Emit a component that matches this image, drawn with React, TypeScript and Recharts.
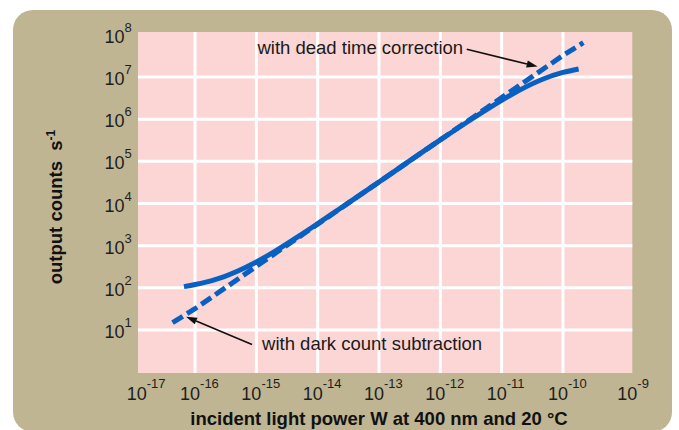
import React from 'react';
import { LineChart, Line, XAxis, YAxis, ReferenceArea, ReferenceLine, ReferenceDot } from 'recharts';

const FONT = '"Liberation Sans", Arial, Helvetica, sans-serif';

// tick labels (decades)
const xTicks = [1e-17, 1e-16, 1e-15, 1e-14, 1e-13, 1e-12, 1e-11, 1e-10, 1e-9];
const yTicks = [1e1, 1e2, 1e3, 1e4, 1e5, 1e6, 1e7, 1e8];
const xGridValues = [1e-16, 1e-15, 1e-14, 1e-13, 1e-12, 1e-11, 1e-10];
const yGridValues = [1e1, 1e2, 1e3, 1e4, 1e5, 1e6, 1e7];

// extent of the pink plotting field (slightly beyond the decade range)
const fieldX = [1.175e-17, 1.35e-9];
const fieldY = [0.957, 1.17e8];

// measured output counts (solid curve)
const measured = [
  { x: 6.6e-17, y: 107 },
  { x: 1e-16, y: 120 },
  { x: 1.5e-16, y: 137 },
  { x: 2e-16, y: 153 },
  { x: 3e-16, y: 185 },
  { x: 5e-16, y: 250 },
  { x: 1e-15, y: 410 },
  { x: 2e-15, y: 735 },
  { x: 5e-15, y: 1710 },
  { x: 1e-14, y: 3330 },
  { x: 3e-14, y: 9800 },
  { x: 1e-13, y: 32400 },
  { x: 1e-12, y: 322000 },
  { x: 3e-12, y: 930000 },
  { x: 1e-11, y: 2.8e6 },
  { x: 2e-11, y: 4.95e6 },
  { x: 5e-11, y: 9.2e6 },
  { x: 1e-10, y: 1.28e7 },
  { x: 1.8e-10, y: 1.55e7 },
];

// corrected counts (dashed line: dark count subtraction / dead time correction)
const corrected = [
  { x: 4.3e-17, y: 15 },
  { x: 1e-16, y: 32 },
  { x: 1e-15, y: 324 },
  { x: 1e-14, y: 3240 },
  { x: 1e-13, y: 32400 },
  { x: 1e-12, y: 324000 },
  { x: 1e-11, y: 3.24e6 },
  { x: 1e-10, y: 3.24e7 },
  { x: 2.15e-10, y: 6.5e7 },
];

// annotations (data coordinates)
const deadTimeText = { x: 2.35e-12, y: 3.5e7, text: 'with dead time correction' };
const deadTimeArrow = [{ x: 2.7e-12, y: 4.54e7 }, { x: 3.86e-11, y: 1.76e7 }];
const darkText = { x: 1.24e-15, y: 3.36, text: 'with dark count subtraction' };
const darkArrow = [{ x: 8.5e-16, y: 4.54 }, { x: 7.13e-17, y: 20.7 }];

const BLUE = '#0861C2';
const PINK = '#FCD5D5';
const TAN = '#BFB593';

const exponent = (v: number) => Math.round(Math.log10(v));

const XTick = (props: any) => {
  const { x, y, payload } = props;
  const e = exponent(payload.value);
  const shift = e === -17 || e === -9 ? 8 : 0;
  return (
    <text x={x - 15 + shift} y={y + 27.8} fontSize={18} fontFamily={FONT} fill="#1e1e1e" textAnchor="start">
      <tspan>10</tspan>
      <tspan dy={-12} fontSize={13}>{e}</tspan>
    </text>
  );
};

const YTick = (props: any) => {
  const { x, y, payload } = props;
  const e = exponent(payload.value);
  return (
    <text x={x} y={y + 8} fontSize={18} fontFamily={FONT} fill="#1e1e1e" textAnchor="end">
      <tspan>10</tspan>
      <tspan dy={-11} fontSize={13}>{e}</tspan>
    </text>
  );
};

const ArrowShape = (props: any) => {
  const { x1, y1, x2, y2 } = props;
  const ang = Math.atan2(y2 - y1, x2 - x1);
  const L = 11;
  const W = 3.6;
  const bx = x2 - L * Math.cos(ang);
  const by = y2 - L * Math.sin(ang);
  const px = -Math.sin(ang) * W;
  const py = Math.cos(ang) * W;
  return (
    <g>
      <line x1={x1} y1={y1} x2={bx} y2={by} stroke="#111" strokeWidth={1.6} />
      <polygon points={`${x2},${y2} ${bx + px},${by + py} ${bx - px},${by - py}`} fill="#111" />
    </g>
  );
};

const textShape = (text: string, anchor: string) => (props: any) => (
  <text x={props.cx} y={props.cy} fontSize={18.5} fontFamily={FONT} fill="#1a1a1a" textAnchor={anchor}>
    {text}
  </text>
);

const XTitle = (props: any) => {
  const vb = props.viewBox || {};
  return (
    <text x={vb.x + vb.width / 2} y={vb.y + 52.8} fontSize={18.5} fontWeight="bold" fontFamily={FONT} fill="#111" textAnchor="middle">
      incident light power W at 400 nm and 20 °C
    </text>
  );
};

const YTitle = (props: any) => {
  const cx = 62;
  const cy = 207;
  return (
    <text x={cx} y={cy} transform={`rotate(-90, ${cx}, ${cy})`} fontSize={18.5} fontWeight="bold" fontFamily={FONT} fill="#111" textAnchor="middle">
      <tspan>output counts{'\u00a0\u00a0'}s</tspan>
      <tspan dy={-7} fontSize={12}>-1</tspan>
    </text>
  );
};

export default function App() {
  return (
    <div style={{ position: 'absolute', left: 0, top: 0, width: 679, height: 430, background: '#fff', overflow: 'hidden' }}>
      <div style={{ position: 'absolute', left: 13, top: 10, width: 659, height: 422, background: TAN, borderRadius: 20 }} />
      <div style={{ position: 'absolute', left: 0, top: 0 }}>
        <LineChart width={679} height={430} margin={{ top: 34.8, right: 54.7, bottom: 0, left: 0 }}>
          <XAxis
            dataKey="x"
            type="number"
            scale="log"
            domain={[1e-17, 1e-9]}
            ticks={xTicks}
            tick={<XTick />}
            tickSize={0}
            tickMargin={0}
            axisLine={false}
            tickLine={false}
            height={57.8}
            allowDataOverflow
            interval={0}
            label={{ content: <XTitle /> }}
          />
          <YAxis
            dataKey="y"
            type="number"
            scale="log"
            domain={[1, 1e8]}
            ticks={yTicks}
            tick={<YTick />}
            tickSize={0}
            tickMargin={2}
            axisLine={false}
            tickLine={false}
            width={133.7}
            allowDataOverflow
            interval={0}
            label={{ content: <YTitle /> }}
          />
          <ReferenceArea x1={fieldX[0]} x2={fieldX[1]} y1={fieldY[0]} y2={fieldY[1]} fill={PINK} fillOpacity={1} stroke="none" ifOverflow="visible" />
          {xGridValues.map((v) => (
            <ReferenceLine key={'vx' + v} segment={[{ x: v, y: fieldY[0] }, { x: v, y: fieldY[1] }]} stroke="#fff" strokeWidth={3} ifOverflow="visible" />
          ))}
          {yGridValues.map((v) => (
            <ReferenceLine key={'hy' + v} segment={[{ x: fieldX[0], y: v }, { x: fieldX[1], y: v }]} stroke="#fff" strokeWidth={3} ifOverflow="visible" />
          ))}
          <Line data={corrected} dataKey="y" type="linear" stroke={BLUE} strokeWidth={5} strokeDasharray="12 5" dot={false} isAnimationActive={false} />
          <Line data={measured} dataKey="y" type="monotone" stroke={BLUE} strokeWidth={5} dot={false} isAnimationActive={false} />
          <ReferenceLine segment={deadTimeArrow} shape={ArrowShape} ifOverflow="visible" />
          <ReferenceLine segment={darkArrow} shape={ArrowShape} ifOverflow="visible" />
          <ReferenceDot x={deadTimeText.x} y={deadTimeText.y} r={0} shape={textShape(deadTimeText.text, 'end')} ifOverflow="visible" />
          <ReferenceDot x={darkText.x} y={darkText.y} r={0} shape={textShape(darkText.text, 'start')} ifOverflow="visible" />
        </LineChart>
      </div>
    </div>
  );
}
